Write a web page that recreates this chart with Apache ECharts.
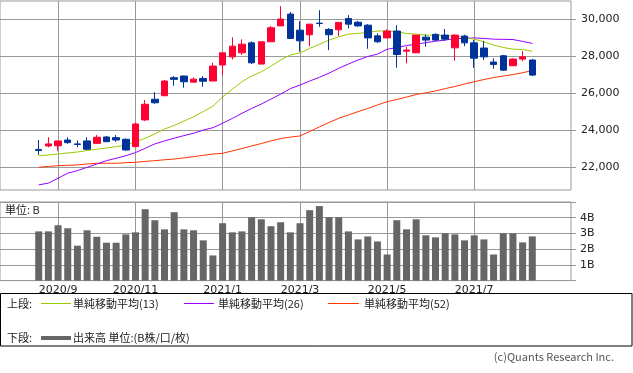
<!DOCTYPE html>
<html><head><meta charset="utf-8">
<script src="https://cdn.jsdelivr.net/npm/echarts@6/dist/echarts.min.js"></script>
<style>html,body{margin:0;padding:0;background:#fff;}#c{width:633px;height:373px;}</style>
</head><body><div id="c"></div>
<script>
// weekly candles (week start dates)
const weeks = ['2020/8/24','2020/8/31','2020/9/7','2020/9/14','2020/9/21','2020/9/28','2020/10/5','2020/10/12','2020/10/19','2020/10/26',
 '2020/11/2','2020/11/9','2020/11/16','2020/11/23','2020/11/30','2020/12/7','2020/12/14','2020/12/21','2020/12/28',
 '2021/1/4','2021/1/11','2021/1/18','2021/1/25','2021/2/1','2021/2/8','2021/2/15','2021/2/22','2021/3/1','2021/3/8',
 '2021/3/15','2021/3/22','2021/3/29','2021/4/5','2021/4/12','2021/4/19','2021/4/26','2021/5/3','2021/5/10','2021/5/17',
 '2021/5/24','2021/5/31','2021/6/7','2021/6/14','2021/6/21','2021/6/28','2021/7/5','2021/7/12','2021/7/19','2021/7/26',
 '2021/8/2','2021/8/9','2021/8/16'];
const openP  = [22950,23140,23150,23460,23250,23410,23280,23625,23590,23500,23100,24550,25670,25860,26840,26930,26600,26800,26660,
 27530,27970,28190,28730,27580,28790,29650,30290,29420,29170,29800,29460,29440,30050,29850,29690,29110,29000,29370,28280,
 28190,29040,29190,29150,28460,29100,28730,28450,27690,28030,27490,27850,27800];
const closeP = [22890,23250,23410,23320,23220,22960,23610,23370,23460,22920,24330,25400,25480,26660,26750,26620,26760,26650,27470,
 28190,28550,28660,27650,28790,29550,30020,28970,28840,29745,29780,29170,29840,29745,29650,29000,28790,29370,28100,28340,
 29150,28880,28880,28930,29150,28730,27900,27970,27560,27250,27850,27970,26980];
const lowP   = [22650,23070,22880,23250,23070,22920,23280,23360,23370,22880,23090,24490,25430,25860,26400,26300,26570,26350,26660,
 26980,27830,28070,27580,27580,28790,29650,28950,28250,28550,29600,28340,29100,29510,29600,28410,28730,29000,27380,27620,
 28190,28520,28830,28830,27760,28550,27380,27800,27330,27240,27490,27730,26930];
const highP  = [23460,23610,23420,23610,23430,23610,23730,23680,23730,23550,24400,25630,26050,26710,26930,26950,26860,26930,27650,
 28200,29030,28920,28810,28790,29640,30720,30410,29900,29745,30500,29530,29840,30230,29920,29745,29240,29460,29690,28520,
 29150,29190,29240,29480,29200,29170,28880,28840,27890,28080,27890,28280,27850];
// simple moving averages
const ma13 = [22600,22650,22700,22760,22810,22890,22960,23030,23100,23190,23370,23550,23790,24060,24250,24490,24720,25000,25300,
 25790,26220,26620,26930,27160,27470,27800,28070,28190,28430,28650,28880,29060,29200,29240,29300,29370,29380,29330,29240,
 29200,29150,29150,29110,29100,29020,28930,28790,28610,28480,28390,28370,28270];
const ma26 = [21030,21120,21390,21660,21800,21980,22160,22340,22470,22610,22780,23010,23250,23410,23560,23700,23830,24000,24130,
 24370,24630,24910,25170,25410,25680,25950,26250,26440,26660,26860,27090,27350,27580,27800,27990,28120,28380,28480,28580,
 28660,28740,28820,28880,28960,28970,29000,28970,28930,28920,28910,28810,28700];
const ma52 = [21980,22030,22070,22090,22110,22160,22200,22200,22200,22230,22250,22300,22340,22390,22430,22490,22560,22630,22700,
 22740,22870,23000,23140,23270,23410,23540,23620,23680,23920,24170,24410,24640,24820,25000,25170,25360,25540,25660,25790,
 25930,26020,26120,26250,26360,26500,26620,26740,26850,26930,27010,27110,27230];
// weekly volume (billion shares)
const volume = [3.13,3.13,3.52,3.33,2.22,3.20,2.79,2.41,2.41,2.94,3.07,4.54,3.84,3.26,4.35,3.26,3.20,2.56,1.60,
 3.65,3.07,3.13,4.03,3.90,3.46,3.71,3.07,3.65,4.48,4.74,4.03,4.03,3.13,2.62,2.81,2.49,1.66,3.84,3.26,
 3.90,2.88,2.75,3.01,2.94,2.56,2.88,2.62,1.66,3.01,3.01,2.43,2.81];
const tickWeeks  = ['2020/9/7','2020/11/2','2021/1/4','2021/3/1','2021/5/3','2021/7/5'];
const tickLabels = ['2020/9','2020/11','2021/1','2021/3','2021/5','2021/7'];
const priceTicks = [22000,24000,26000,28000,30000];
const volTickLabels = ['1B','2B','3B','4B'];

const PAD = 4;
const cats = [];
for (let i = 0; i < PAD; i++) cats.push('pre' + i);
weeks.forEach(w => cats.push(w));
for (let i = 0; i < PAD; i++) cats.push('post' + i);
const tickIdx = tickWeeks.map(w => cats.indexOf(w));

const candleData = weeks.map((w, i) => [w, openP[i], closeP[i], lowP[i], highP[i]]);
const pairs = arr => weeks.map((w, i) => [w, arr[i]]);

const UP = '#ff0033', DOWN = '#003399', GRIDC = '#999';
const numFont = 'DejaVu Sans';
const cjk = '"Noto Sans CJK JP"';

const chart = echarts.init(document.getElementById('c'), null, {renderer: 'canvas'});
const xBase = (gi) => ({
  type: 'category', gridIndex: gi, data: cats, boundaryGap: false,
  axisLine: {show: false}, axisTick: {show: false},
  splitLine: {show: true, interval: (i) => tickIdx.includes(i), lineStyle: {color: GRIDC, width: 1}}
});
chart.setOption({
  animation: false,
  backgroundColor: '#fff',
  grid: [
    {left: 0, right: 62, top: 1, height: 189, show: true, borderColor: GRIDC, borderWidth: 1, backgroundColor: '#fff'},
    {left: 0, right: 62, top: 202, height: 78.6, show: true, borderColor: GRIDC, borderWidth: 1, backgroundColor: '#fff'}
  ],
  xAxis: [
    Object.assign(xBase(0), {axisLabel: {show: false}}),
    Object.assign(xBase(1), {axisLabel: {show: true, interval: (i) => tickIdx.includes(i), margin: 4,
      color: '#222', fontSize: 11, fontFamily: numFont,
      formatter: (v) => { const k = tickWeeks.indexOf(v); return k >= 0 ? tickLabels[k] : ''; }}})
  ],
  yAxis: [
    {type: 'value', gridIndex: 0, position: 'right', min: 20750, max: 31000,
     axisLine: {show: false},
     axisTick: {show: true, length: 5, lineStyle: {color: GRIDC}, customValues: priceTicks},
     axisLabel: {customValues: priceTicks, margin: 10, color: '#222', fontSize: 11, fontFamily: numFont,
       formatter: (v) => v.toLocaleString('en-US')},
     splitLine: {show: true, lineStyle: {color: GRIDC, width: 1}}},
    {type: 'value', gridIndex: 1, position: 'right', min: 0, max: 5, interval: 1,
     axisLine: {show: false},
     axisTick: {show: true, length: 5, lineStyle: {color: GRIDC}},
     axisLabel: {margin: 9, color: '#222', fontSize: 11, fontFamily: numFont,
       formatter: (v) => (v >= 1 && v <= 4) ? volTickLabels[v - 1] : ''},
     splitLine: {show: true, lineStyle: {color: GRIDC, width: 1}}}
  ],
  series: [
    {type: 'line', name: '単純移動平均(52)', xAxisIndex: 0, yAxisIndex: 0, data: pairs(ma52), showSymbol: false,
     lineStyle: {color: '#ff3300', width: 1}, itemStyle: {color: '#ff3300'}, z: 2},
    {type: 'line', name: '単純移動平均(26)', xAxisIndex: 0, yAxisIndex: 0, data: pairs(ma26), showSymbol: false,
     lineStyle: {color: '#9900ff', width: 1}, itemStyle: {color: '#9900ff'}, z: 2},
    {type: 'line', name: '単純移動平均(13)', xAxisIndex: 0, yAxisIndex: 0, data: pairs(ma13), showSymbol: false,
     lineStyle: {color: '#99cc00', width: 1}, itemStyle: {color: '#99cc00'}, z: 2},
    {type: 'candlestick', xAxisIndex: 0, yAxisIndex: 0, data: candleData, barWidth: 7,
     encode: {x: 0, y: [1, 2, 3, 4]},
     itemStyle: {color: UP, color0: DOWN, borderColor: UP, borderColor0: DOWN, borderWidth: 1}, z: 3},
    {type: 'bar', name: '出来高', xAxisIndex: 1, yAxisIndex: 1, data: pairs(volume), barWidth: 7,
     itemStyle: {color: '#666'}}
  ],
  graphic: [
    {type: 'text', x: 5, y: 210, style: {text: '単位: B', font: '11px ' + cjk, fill: '#222', verticalAlign: 'middle'}},
    {type: 'rect', shape: {x: 0.5, y: 293.5, width: 631.5, height: 52.5}, style: {fill: 'none', stroke: '#000', lineWidth: 1}},
    {type: 'text', x: 7, y: 304, style: {text: '上段:', font: '11px ' + cjk, fill: '#222', verticalAlign: 'middle'}},
    {type: 'line', shape: {x1: 41, y1: 303.5, x2: 71, y2: 303.5}, style: {stroke: '#99cc00', lineWidth: 1}},
    {type: 'text', x: 73, y: 304, style: {text: '単純移動平均(13)', font: '11px ' + cjk, fill: '#222', verticalAlign: 'middle'}},
    {type: 'line', shape: {x1: 184, y1: 303.5, x2: 214, y2: 303.5}, style: {stroke: '#9900ff', lineWidth: 1}},
    {type: 'text', x: 218, y: 304, style: {text: '単純移動平均(26)', font: '11px ' + cjk, fill: '#222', verticalAlign: 'middle'}},
    {type: 'line', shape: {x1: 328, y1: 303.5, x2: 359, y2: 303.5}, style: {stroke: '#ff3300', lineWidth: 1}},
    {type: 'text', x: 364, y: 304, style: {text: '単純移動平均(52)', font: '11px ' + cjk, fill: '#222', verticalAlign: 'middle'}},
    {type: 'text', x: 7, y: 338, style: {text: '下段:', font: '11px ' + cjk, fill: '#222', verticalAlign: 'middle'}},
    {type: 'line', shape: {x1: 41, y1: 338, x2: 71, y2: 338}, style: {stroke: '#666', lineWidth: 4}},
    {type: 'text', x: 73, y: 338, style: {text: '出来高 単位:(B株/口/枚)', font: '11px ' + cjk, fill: '#222', verticalAlign: 'middle'}},
    {type: 'text', x: 614, y: 357, style: {text: '(c)Quants Research Inc.', font: '11px ' + cjk, fill: '#555', align: 'right', verticalAlign: 'middle'}}
  ]
});
</script></body></html>
